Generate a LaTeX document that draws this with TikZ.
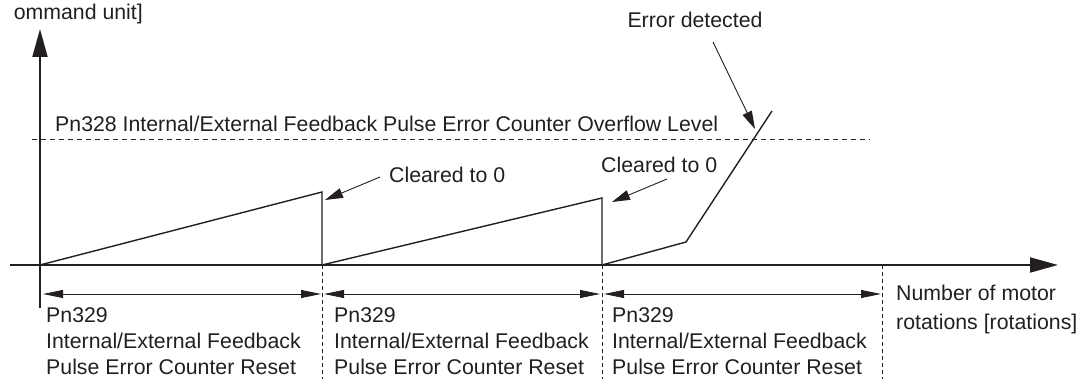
\documentclass[tikz,border=0pt]{standalone}
\usepackage{fontspec}
\setmainfont{Liberation Sans}
\usetikzlibrary{arrows.meta}
\definecolor{ink}{HTML}{231F20}
\begin{document}
\begin{tikzpicture}[x=1pt,y=-1pt,
  every node/.style={text=ink},
  lbl/.style={font=\fontsize{21.3}{26}\selectfont, inner sep=0pt, align=left},
  axis/.style={draw=ink, line width=1.8pt, -{Triangle[length=28pt,width=15pt]}},
  wave/.style={draw=ink, line width=1.4pt, line join=miter},
  dimarrow/.style={draw=ink, line width=0.9pt, {Triangle[length=20pt,width=8pt]}-{Triangle[length=20pt,width=8pt]}},
  callout/.style={draw=ink, line width=0.9pt, -{Triangle[length=18pt,width=10pt]}},
  levelline/.style={draw=ink, line width=1pt, dash pattern=on 5pt off 4pt},
  guide/.style={draw=ink, line width=0.9pt, dash pattern=on 4pt off 3pt}]
\useasboundingbox (0,0) rectangle (1087,379);
% axes
\coordinate (ybot) at (40,308);
\coordinate (ytop) at (40,29);
\coordinate (xleft) at (10,265);
\coordinate (xright) at (1058,265);
\draw[axis] (ybot) -- (ytop);
\draw[axis] (xleft) -- (xright);
% overflow level
\coordinate (lvlA) at (32,140);
\coordinate (lvlB) at (870,140);
\draw[levelline] (lvlA) -- (lvlB);
\node[lbl, anchor=base west] (lvltxt) at (55,132) {Pn328 Internal/External Feedback Pulse Error Counter Overflow Level};
% waveform
\coordinate (o) at (40,265);
\coordinate (p1) at (322,192);
\coordinate (b1) at (322,265);
\coordinate (p2) at (602,198);
\coordinate (b2) at (602,265);
\coordinate (k) at (686,242);
\coordinate (e) at (772,111);
\draw[wave] (o) -- (p1) -- (b1) -- (p2) -- (b2) -- (k) -- (e);
% guides
\coordinate (g1a) at (322,265); \coordinate (g1b) at (322,379);
\coordinate (g2a) at (602,265); \coordinate (g2b) at (602,379);
\coordinate (g3a) at (882,265); \coordinate (g3b) at (882,379);
\draw[guide] (g1a) -- (g1b);
\draw[guide] (g2a) -- (g2b);
\draw[guide] (g3a) -- (g3b);
% dimension arrows
\coordinate (d1a) at (43,294); \coordinate (d1b) at (321,294);
\coordinate (d2a) at (324,294); \coordinate (d2b) at (600,294);
\coordinate (d3a) at (604,294); \coordinate (d3b) at (881,294);
\draw[dimarrow] (d1a) -- (d1b);
\draw[dimarrow] (d2a) -- (d2b);
\draw[dimarrow] (d3a) -- (d3b);
% labels
\node[lbl, anchor=north west] (r1) at (46,307) {Pn329\\Internal/External Feedback\\Pulse Error Counter Reset};
\node[lbl, anchor=north west] (r2) at (334,307) {Pn329\\Internal/External Feedback\\Pulse Error Counter Reset};
\node[lbl, anchor=north west] (r3) at (612,307) {Pn329\\Internal/External Feedback\\Pulse Error Counter Reset};
\node[lbl, anchor=north west, font=\fontsize{21.3}{28.5}\selectfont] (motor) at (896,285) {Number of motor\\rotations [rotations]};
\node[lbl, anchor=base east] (yunit) at (143,20) {ommand unit]};
% callouts
\node[lbl, anchor=base west] (clr1) at (389,183) {Cleared to 0};
\node[lbl, anchor=base west] (clr2) at (601,173) {Cleared to 0};
\node[lbl, anchor=base] (err) at (695,28) {Error detected};
\coordinate (c1s) at (380,177); \coordinate (c1t) at (325,200);
\coordinate (c2s) at (667,179); \coordinate (c2t) at (612,202);
\coordinate (es) at (713,42); \coordinate (et) at (755,129);
\draw[callout] (c1s) -- (c1t);
\draw[callout] (c2s) -- (c2t);
\draw[callout] (es) -- (et);
\end{tikzpicture}
\end{document}
